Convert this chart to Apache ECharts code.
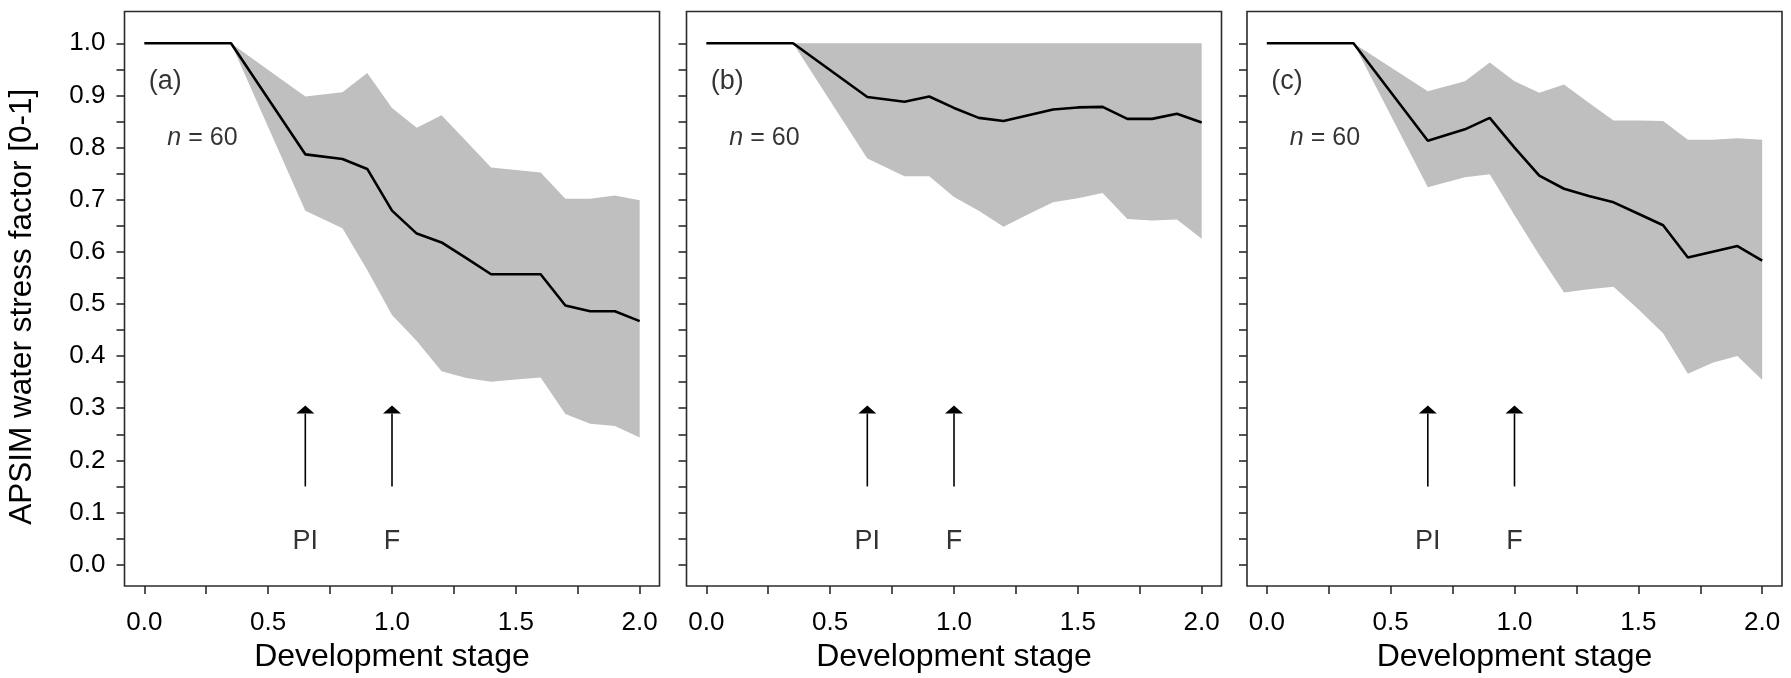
<!DOCTYPE html>
<html>
<head>
<meta charset="utf-8">
<script src="https://cdn.jsdelivr.net/npm/echarts@6/dist/echarts.min.js"></script>
<style>
html,body{margin:0;padding:0;background:#fff;}
#chart{width:1791px;height:678px;}
</style>
</head>
<body>
<div id="chart"></div>
<script>
// ---- data ----
const stages = [0, 0.35, 0.65, 0.8, 0.9, 1.0, 1.1, 1.2, 1.3, 1.4, 1.5, 1.6, 1.7, 1.8, 1.9, 2.0];

const meanA  = [1, 1, 0.787, 0.778, 0.759, 0.679, 0.635, 0.618, 0.588, 0.557, 0.557, 0.557, 0.497, 0.486, 0.486, 0.467];
const upperA = [1, 1, 0.898, 0.906, 0.943, 0.876, 0.838, 0.862, 0.812, 0.762, 0.757, 0.752, 0.702, 0.702, 0.708, 0.699];
const lowerA = [1, 1, 0.679, 0.645, 0.565, 0.479, 0.429, 0.371, 0.358, 0.351, 0.355, 0.359, 0.289, 0.270, 0.266, 0.244];

const meanB  = [1, 1, 0.897, 0.888, 0.898, 0.876, 0.857, 0.851, 0.862, 0.873, 0.877, 0.878, 0.855, 0.855, 0.865, 0.848];
const upperB = [1, 1, 1, 1, 1, 1, 1, 1, 1, 1, 1, 1, 1, 1, 1, 1];
const lowerB = [1, 1, 0.779, 0.745, 0.745, 0.705, 0.679, 0.648, 0.672, 0.695, 0.703, 0.713, 0.663, 0.660, 0.662, 0.625];

const meanC  = [1, 1, 0.813, 0.835, 0.857, 0.800, 0.746, 0.721, 0.707, 0.695, 0.673, 0.651, 0.589, 0.600, 0.611, 0.583];
const upperC = [1, 1, 0.908, 0.927, 0.963, 0.927, 0.905, 0.921, 0.886, 0.852, 0.852, 0.851, 0.815, 0.815, 0.818, 0.815];
const lowerC = [1, 1, 0.724, 0.743, 0.749, 0.670, 0.594, 0.522, 0.528, 0.533, 0.490, 0.444, 0.366, 0.387, 0.400, 0.354];

const panelLabels = ['(a)', '(b)', '(c)'];
const sampleText = 'n = 60';
const markerNames = ['PI', 'F'];
const markerStages = [0.65, 1.0];

const xTickValues  = [0, 0.25, 0.5, 0.75, 1.0, 1.25, 1.5, 1.75, 2.0];
const xLabelValues = [0, 0.5, 1.0, 1.5, 2.0];
const yTickValues  = [0, 0.05, 0.1, 0.15, 0.2, 0.25, 0.3, 0.35, 0.4, 0.45, 0.5, 0.55, 0.6, 0.65, 0.7, 0.75, 0.8, 0.85, 0.9, 0.95, 1.0];
const yLabelValues = [0, 0.1, 0.2, 0.3, 0.4, 0.5, 0.6, 0.7, 0.8, 0.9, 1.0];

const xTitle = 'Development stage';
const yTitle = 'APSIM water stress factor [0-1]';

// ---- layout / style ----
const panels = [
  {mean: meanA, upper: upperA, lower: lowerA},
  {mean: meanB, upper: upperB, lower: lowerB},
  {mean: meanC, upper: upperC, lower: lowerC}
];
const gridLefts = [124.5, 686.5, 1247];
const FONT = '"Liberation Sans", Arial, sans-serif';
const AXC = '#2b2b2b';
const TXT = '#000';

const chart = echarts.init(document.getElementById('chart'), null, {renderer: 'canvas'});

const grid = [], xAxis = [], yAxis = [], series = [];

panels.forEach((p, i) => {
  grid.push({left: gridLefts[i], top: 11.5, width: 535, height: 578.5,
             show: true, borderColor: AXC, borderWidth: 1.6, backgroundColor: 'transparent'});
  xAxis.push({
    type: 'value', gridIndex: i, min: -0.08, max: 2.08, position: 'bottom',
    name: xTitle, nameLocation: 'middle', nameGap: 55,
    nameTextStyle: {fontFamily: FONT, fontSize: 32, color: TXT},
    axisLine: {show: false, onZero: false},
    axisTick: {show: true, inside: false, length: 8, customValues: xTickValues,
               lineStyle: {color: AXC, width: 1.6}},
    axisLabel: {show: true, customValues: xLabelValues, margin: 24,
                fontFamily: FONT, fontSize: 26, color: TXT,
                formatter: v => v.toFixed(1)},
    splitLine: {show: false}
  });
  yAxis.push({
    type: 'value', gridIndex: i, min: -0.041, max: 1.061, position: 'left',
    name: i === 0 ? yTitle : '', nameLocation: 'middle', nameGap: 86,
    nameTextStyle: {fontFamily: FONT, fontSize: 31.5, color: TXT, padding: [0, 16, 0, 0]},
    axisLine: {show: false, onZero: false},
    axisTick: {show: true, inside: false, length: 8, customValues: yTickValues,
               lineStyle: {color: AXC, width: 1.6}},
    axisLabel: {show: i === 0, customValues: yLabelValues, margin: 19,
                fontFamily: FONT, fontSize: 26, color: TXT,
                formatter: v => v.toFixed(1)},
    splitLine: {show: false}
  });

  // shaded band (upper -> lower polygon through the axis scales)
  series.push({
    type: 'custom', xAxisIndex: i, yAxisIndex: i, silent: true, z: 1,
    data: stages.map((x, k) => [x, p.lower[k], p.upper[k]]),
    encode: {x: 0, y: [1, 2]},
    renderItem: function (params, api) {
      if (params.dataIndex !== 0) return null;
      const pts = [];
      for (let k = 0; k < stages.length; k++) pts.push(api.coord([stages[k], p.upper[k]]));
      for (let k = stages.length - 1; k >= 0; k--) pts.push(api.coord([stages[k], p.lower[k]]));
      return {type: 'polygon', shape: {points: pts}, style: {fill: '#bfbfbf', stroke: null}};
    }
  });

  // mean line
  series.push({
    type: 'line', xAxisIndex: i, yAxisIndex: i, z: 3, silent: true,
    data: stages.map((x, k) => [x, p.mean[k]]),
    symbol: 'none', lineStyle: {color: '#000', width: 2.6}
  });

  // arrows for PI and F
  series.push({
    type: 'custom', xAxisIndex: i, yAxisIndex: i, silent: true, z: 4,
    data: markerStages.map(x => [x, 0.15, 0.305]),
    renderItem: function (params, api) {
      const a = api.coord([api.value(0), api.value(1)]);
      const b = api.coord([api.value(0), api.value(2)]);
      const hh = 8, hw = 9;
      return {type: 'group', children: [
        {type: 'line', shape: {x1: a[0], y1: a[1], x2: b[0], y2: b[1] + hh},
         style: {stroke: '#000', lineWidth: 1.6}},
        {type: 'polygon', shape: {points: [[b[0], b[1]], [b[0] - hw, b[1] + hh], [b[0] + hw, b[1] + hh]]},
         style: {fill: '#000'}}
      ]};
    }
  });

  // PI / F labels
  series.push({
    type: 'scatter', xAxisIndex: i, yAxisIndex: i, silent: true, z: 5,
    symbolSize: 1, itemStyle: {color: 'rgba(0,0,0,0)'},
    data: markerStages.map((x, k) => ({value: [x, 0.044], name: markerNames[k]})),
    label: {show: true, position: 'inside', formatter: '{b}',
            fontFamily: FONT, fontSize: 27, color: TXT}
  });

  // panel letter and n label
  series.push({
    type: 'scatter', xAxisIndex: i, yAxisIndex: i, silent: true, z: 5,
    symbolSize: 1, itemStyle: {color: 'rgba(0,0,0,0)'},
    data: [
      {value: [0.016, 0.926], name: panelLabels[i]},
      {value: [0.091, 0.818], name: sampleText}
    ],
    label: {show: true, position: 'right', distance: 0,
            fontFamily: FONT, fontSize: 27, color: TXT,
            formatter: function (d) {
              if (d.name === sampleText) return '{it|n}{t| = 60}';
              return d.name;
            },
            rich: {
              it: {fontFamily: FONT, fontSize: 25, fontStyle: 'italic', color: TXT},
              t: {fontFamily: FONT, fontSize: 25, color: TXT}
            }}
  });
});

chart.setOption({animation: false, backgroundColor: '#fff', grid, xAxis, yAxis, series});
</script>
</body>
</html>
